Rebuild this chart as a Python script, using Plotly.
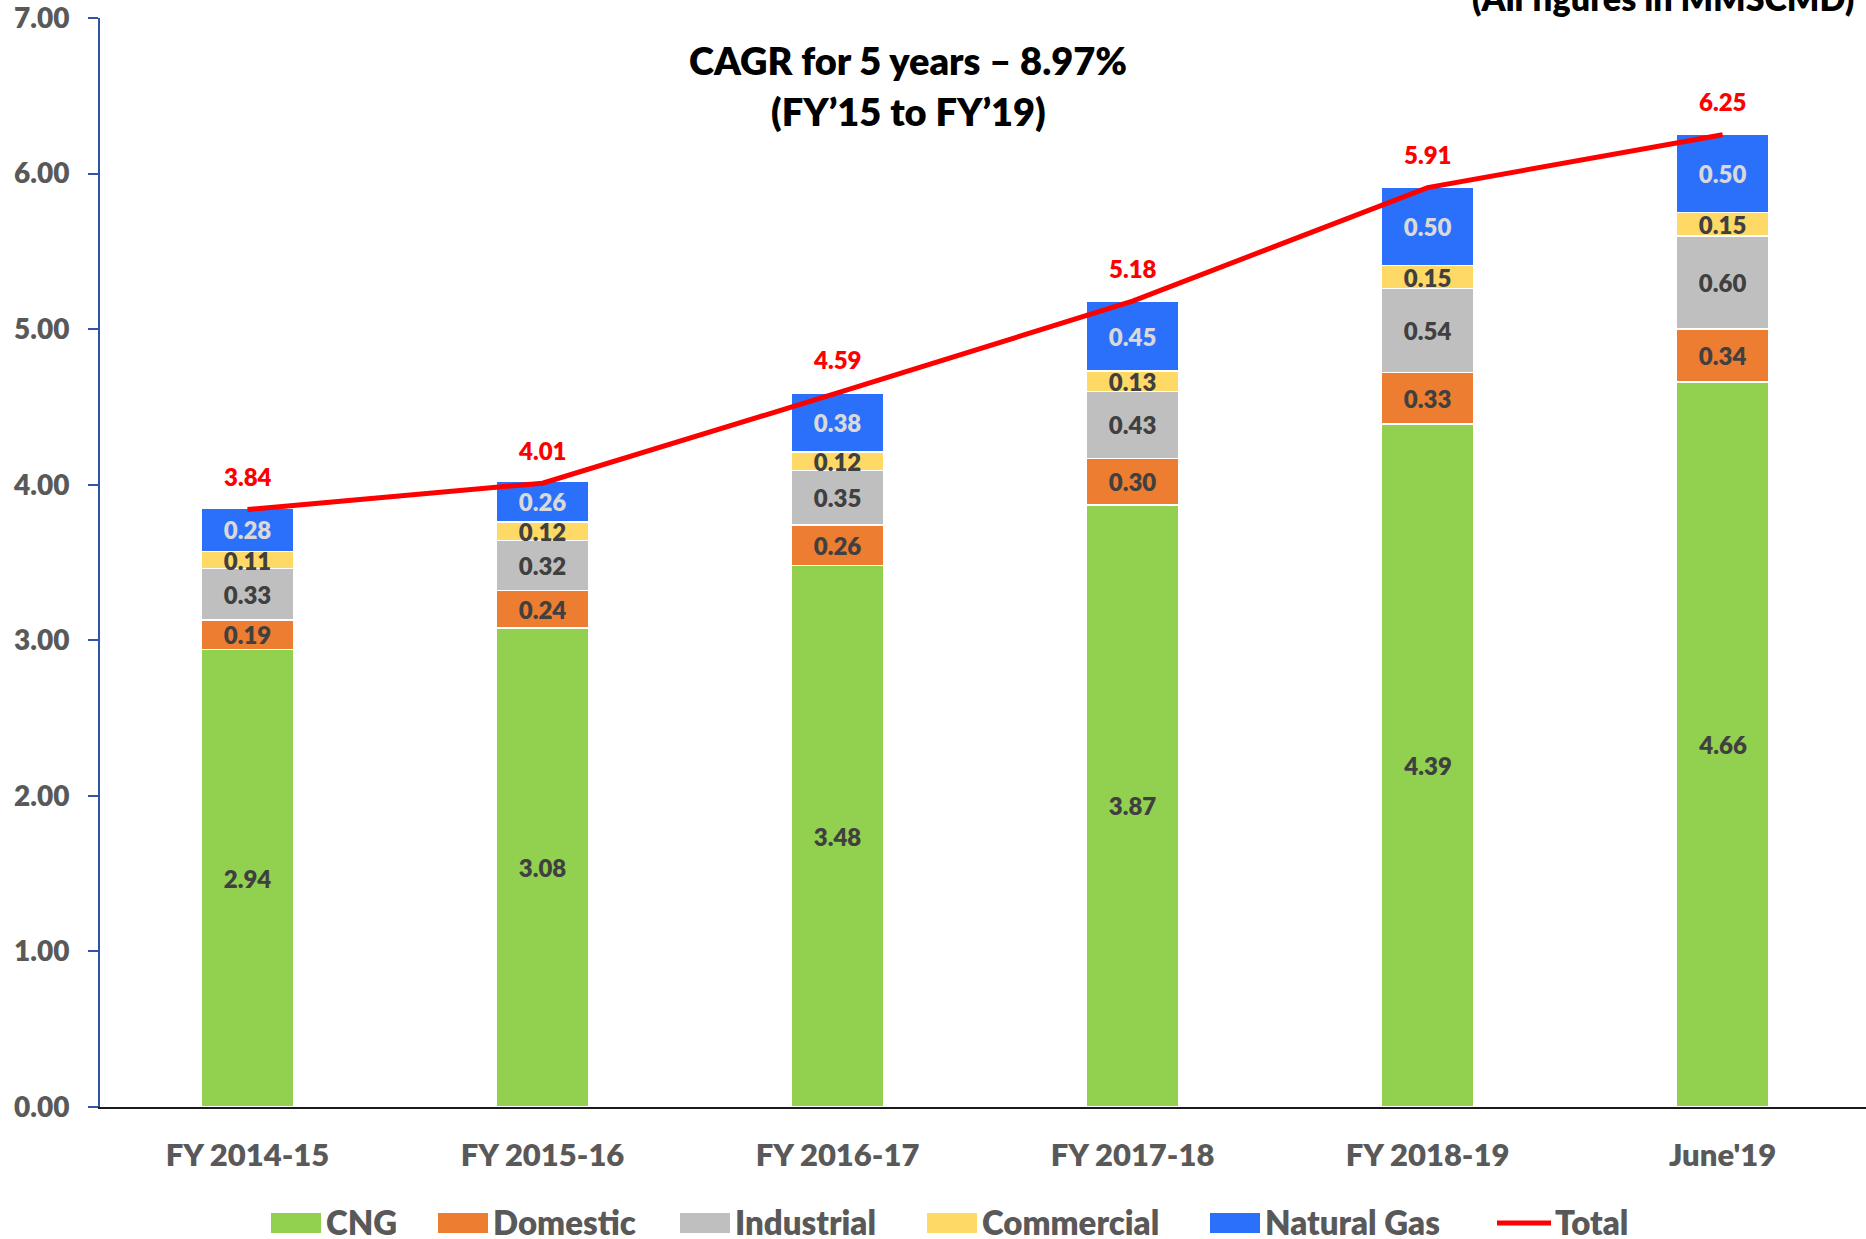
import plotly.graph_objects as go

categories = ["FY 2014-15", "FY 2015-16", "FY 2016-17", "FY 2017-18", "FY 2018-19", "June'19"]
cng = [2.94, 3.08, 3.48, 3.87, 4.39, 4.66]
domestic = [0.19, 0.24, 0.26, 0.30, 0.33, 0.34]
industrial = [0.33, 0.32, 0.35, 0.43, 0.54, 0.60]
commercial = [0.11, 0.12, 0.12, 0.13, 0.15, 0.15]
natural_gas = [0.28, 0.26, 0.38, 0.45, 0.50, 0.50]
total = [3.84, 4.01, 4.59, 5.18, 5.91, 6.25]

series_names = ["CNG", "Domestic", "Industrial", "Commercial", "Natural Gas"]
series_values = [cng, domestic, industrial, commercial, natural_gas]
series_colors = ["#92D050", "#ED7D31", "#BFBFBF", "#FFD966", "#2B70FA"]
label_colors = ["#404040", "#404040", "#404040", "#404040", "#D9D9D9"]

FONT = "Lato"
WT = 800
W, H = 1866, 1239
ML, MR, MT, MB = 100, 0, 18, 132
PW, PH = W - ML - MR, H - MT - MB

fig = go.Figure()
for name, vals, col, lcol in zip(series_names, series_values, series_colors, label_colors):
    fig.add_trace(go.Bar(
        x=categories, y=vals, name=name, width=0.315,
        marker=dict(color=col, line=dict(color="white", width=1.5)),
        text=[f"{v:.2f}" for v in vals], textposition="inside",
        insidetextanchor="middle", textangle=0,
        textfont=dict(family=FONT, size=24, color=lcol, weight=WT),
        showlegend=False, hoverinfo="skip",
    ))

fig.add_trace(go.Scatter(
    x=categories, y=total, mode="lines", name="Total",
    line=dict(color="#FF0000", width=5), showlegend=False, hoverinfo="skip",
))

annotations = []
for c, t in zip(categories, total):
    annotations.append(dict(x=c, y=t, xref="x", yref="y", text=f"{t:.2f}", showarrow=False,
                            yshift=33, yanchor="middle",
                            font=dict(family=FONT, size=24, color="#FF0000", weight=WT)))

def px_x(p):
    return (p - ML) / PW

def px_y(p):
    return (H - MB - p) / PH

annotations.append(dict(x=px_x(908), y=px_y(60), xref="paper", yref="paper", showarrow=False,
                        text="CAGR for 5 years – 8.97%", xanchor="center", yanchor="middle",
                        font=dict(family=FONT, size=38, color="#000000", weight=WT)))
annotations.append(dict(x=px_x(908), y=px_y(111), xref="paper", yref="paper", showarrow=False,
                        text="(FY’15 to FY’19)", xanchor="center", yanchor="middle",
                        font=dict(family=FONT, size=38, color="#000000", weight=WT)))
annotations.append(dict(x=px_x(1856), y=px_y(20), xref="paper", yref="paper", showarrow=False,
                        text="(All figures in MMSCMD)", xanchor="right", yanchor="bottom",
                        font=dict(family=FONT, size=34, color="#000000", weight=WT)))

# custom legend
legend_names = series_names + ["Total"]
legend_colors = series_colors + ["#FF0000"]
legend_x = [271, 438, 680, 927, 1210, 1497]
legend_yc = 1222
shapes = []
for nm, col, lx in zip(legend_names, legend_colors, legend_x):
    if nm == "Total":
        shapes.append(dict(type="line", xref="paper", yref="paper",
                           x0=px_x(lx), x1=px_x(lx + 54), y0=px_y(legend_yc + 1), y1=px_y(legend_yc + 1),
                           line=dict(color=col, width=5)))
        tx = lx + 56
    else:
        shapes.append(dict(type="rect", xref="paper", yref="paper",
                           x0=px_x(lx), x1=px_x(lx + 50), y0=px_y(legend_yc - 9), y1=px_y(legend_yc + 11),
                           fillcolor=col, line=dict(width=0)))
        tx = lx + 53
    annotations.append(dict(x=px_x(tx), y=px_y(legend_yc), xref="paper", yref="paper", showarrow=False,
                            text=nm, xanchor="left", yanchor="middle",
                            font=dict(family=FONT, size=33, color="#595959", weight=WT)))

fig.update_layout(
    width=W, height=H, barmode="stack", plot_bgcolor="white", paper_bgcolor="white",
    margin=dict(l=ML, r=MR, t=MT, b=MB), showlegend=False,
    uniformtext=dict(minsize=24, mode="show"),
    annotations=annotations, shapes=shapes,
    xaxis=dict(type="category", range=[-0.5, 5.486], showline=True, linecolor="#1A1A1A", linewidth=2,
               ticks="", showgrid=False, zeroline=False, ticklabelstandoff=20,
               tickfont=dict(family=FONT, size=31, color="#595959", weight=WT)),
    yaxis=dict(range=[0, 7], dtick=1, tickformat=".2f", showline=True, linecolor="#2F55A4", linewidth=2,
               ticks="outside", ticklen=10, tickwidth=2, tickcolor="#2F55A4", showgrid=False,
               zeroline=False, ticklabelstandoff=13, ticklabeloverflow="allow",
               tickfont=dict(family=FONT, size=28, color="#595959", weight=WT)),
)

fig.write_html("out.html")
